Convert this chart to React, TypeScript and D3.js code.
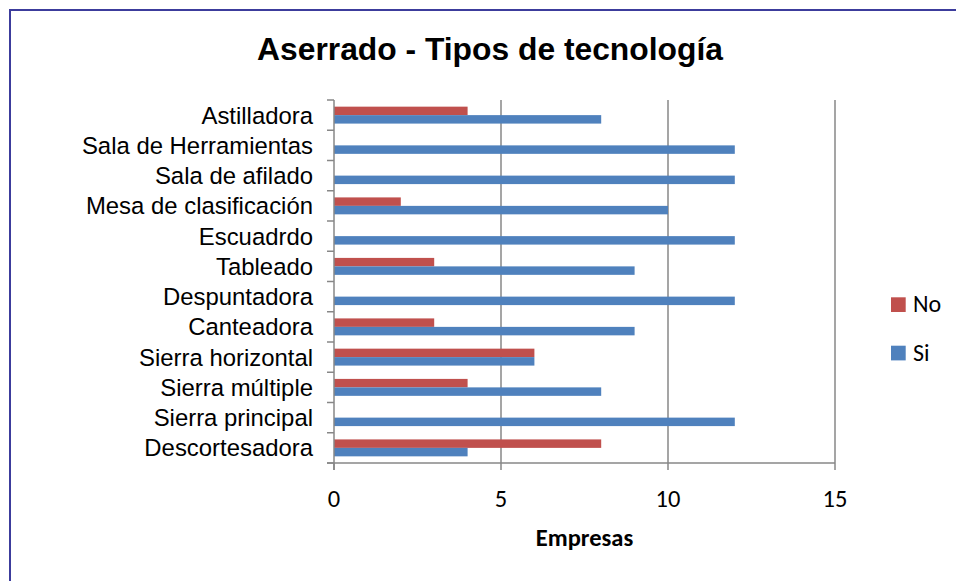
import React from "react";
import * as d3 from "d3";

const categories = [
  "Astilladora",
  "Sala de Herramientas",
  "Sala de afilado",
  "Mesa de clasificación",
  "Escuadrdo",
  "Tableado",
  "Despuntadora",
  "Canteadora",
  "Sierra horizontal",
  "Sierra múltiple",
  "Sierra principal",
  "Descortesadora",
];
const noValues = [4, 0, 0, 2, 0, 3, 0, 3, 6, 4, 0, 8];
const siValues = [8, 12, 12, 10, 12, 9, 12, 9, 6, 8, 12, 4];
const xTicks = [0, 5, 10, 15];
const seriesNames = ["No", "Si"];
const seriesColors = ["#C0504D", "#4F81BD"];

const W = 956;
const H = 581;
const plot = { left: 334, right: 835, top: 100, bottom: 463 };

export default function App() {
  const x = d3.scaleLinear().domain([0, 15]).range([plot.left, plot.right]);
  const y = d3
    .scaleBand<string>()
    .domain(categories)
    .range([plot.top, plot.bottom])
    .paddingInner(0)
    .paddingOuter(0);
  const bw = y.bandwidth();
  const barH = bw * 0.28;
  const axisColor = "#878787";
  const arial = "'Liberation Sans', Arial, sans-serif";
  const calibri = "Carlito, Lato, sans-serif";

  return (
    <svg
      width={W}
      height={H}
      style={{ position: "absolute", left: 0, top: 0, display: "block", background: "#fff" }}
    >
      <rect x={10} y={10} width={W + 20} height={H + 20} fill="#fff" stroke="#3C3C9C" strokeWidth={2} />
      <text
        x={490}
        y={60}
        textAnchor="middle"
        fontFamily={arial}
        fontWeight="bold"
        fontSize={31.8}
        fill="#000"
      >
        Aserrado - Tipos de tecnología
      </text>

      {/* gridlines */}
      {xTicks
        .filter((t) => t > 0)
        .map((t) => (
          <line
            key={"g" + t}
            x1={x(t)}
            x2={x(t)}
            y1={plot.top}
            y2={plot.bottom}
            stroke={axisColor}
            strokeWidth={1.5}
          />
        ))}

      {/* bars */}
      {categories.map((c, i) => {
        const cy = (y(c) as number) + bw / 2;
        return (
          <g key={c}>
            {noValues[i] > 0 && (
              <rect
                x={x(0)}
                y={cy - barH}
                width={x(noValues[i]) - x(0)}
                height={barH}
                fill={seriesColors[0]}
              />
            )}
            {siValues[i] > 0 && (
              <rect
                x={x(0)}
                y={cy}
                width={x(siValues[i]) - x(0)}
                height={barH}
                fill={seriesColors[1]}
              />
            )}
          </g>
        );
      })}

      {/* y axis */}
      <line x1={plot.left} x2={plot.left} y1={plot.top} y2={plot.bottom + 7} stroke={axisColor} strokeWidth={1.5} />
      {[...categories.map((c) => y(c) as number), plot.bottom].map((v, i) => (
        <line key={"yt" + i} x1={plot.left - 7} x2={plot.left} y1={v} y2={v} stroke={axisColor} strokeWidth={1.5} />
      ))}
      {categories.map((c) => (
        <text
          key={"yl" + c}
          x={313}
          y={(y(c) as number) + bw / 2 + 8.6}
          textAnchor="end"
          fontFamily={arial}
          fontSize={23.9}
          fill="#000"
        >
          {c}
        </text>
      ))}

      {/* x axis */}
      <line x1={plot.left - 7} x2={plot.right} y1={plot.bottom} y2={plot.bottom} stroke={axisColor} strokeWidth={1.5} />
      {xTicks.map((t) => (
        <g key={"xt" + t}>
          <line x1={x(t)} x2={x(t)} y1={plot.bottom} y2={plot.bottom + 7} stroke={axisColor} strokeWidth={1.5} />
          <text
            x={x(t)}
            y={506.5}
            textAnchor="middle"
            fontFamily={calibri}
            fontSize={24.5}
            fill="#000"
          >
            {t}
          </text>
        </g>
      ))}
      <text
        x={(plot.left + plot.right) / 2}
        y={545.5}
        textAnchor="middle"
        fontFamily={calibri}
        fontWeight="bold"
        fontSize={24.5}
        fill="#000"
      >
        Empresas
      </text>

      {/* legend */}
      {seriesNames.map((s, i) => (
        <g key={"lg" + s}>
          <rect x={891} y={297.3 + i * 48.4} width={14.7} height={14.7} fill={seriesColors[i]} />
          <text x={913} y={312.3 + i * 48.4} fontFamily={calibri} fontSize={24} fill="#000">
            {s}
          </text>
        </g>
      ))}
    </svg>
  );
}
